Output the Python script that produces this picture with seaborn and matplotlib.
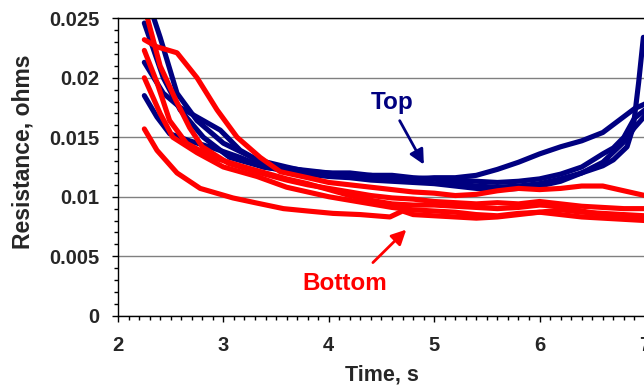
import matplotlib
matplotlib.use("Agg")
import matplotlib.pyplot as plt
import seaborn as sns
from matplotlib.ticker import MultipleLocator

# blue traces ("Top")
top1_t = [2.34, 2.40, 2.465, 2.56, 2.75, 3.00, 3.32, 3.60, 3.80, 4.00, 4.20, 4.40, 4.60, 4.80,
          5.00, 5.20, 5.40, 5.60, 5.80, 6.00, 6.20, 6.40, 6.60, 6.70, 6.83, 6.89, 6.94, 6.985]
top1_r = [0.0250, 0.0234, 0.0215, 0.0187, 0.0164, 0.0145, 0.0131, 0.0125, 0.0121, 0.0120, 0.0117,
          0.0118, 0.0115, 0.0114, 0.0115, 0.0111, 0.0109, 0.0108, 0.0109, 0.0111, 0.0115, 0.0120,
          0.0126, 0.0131, 0.0142, 0.0159, 0.0196, 0.0234]
top2_t = [2.25, 2.43, 2.59, 2.81, 3.06, 3.38, 3.60, 3.80, 4.00, 4.20, 4.40, 4.60, 4.80, 5.00,
          5.20, 5.40, 5.60, 5.80, 6.00, 6.20, 6.40, 6.60, 6.75, 6.90, 7.00]
top2_r = [0.0246, 0.0200, 0.0173, 0.0150, 0.0133, 0.0125, 0.0122, 0.0121, 0.0119, 0.0119, 0.0117,
          0.0117, 0.0115, 0.0116, 0.0116, 0.0118, 0.0123, 0.0129, 0.0136, 0.0142, 0.0147, 0.0154,
          0.0164, 0.0174, 0.0178]
top3_t = [2.25, 2.43, 2.59, 2.81, 2.97, 3.16, 3.38, 3.60, 3.80, 4.00, 4.20, 4.40, 4.60, 4.80,
          5.00, 5.20, 5.40, 5.60, 5.80, 6.00, 6.20, 6.40, 6.60, 6.70, 6.80, 6.90, 7.00]
top3_r = [0.0213, 0.0187, 0.0175, 0.0164, 0.0156, 0.0139, 0.0128, 0.0124, 0.0122, 0.0120, 0.0120,
          0.0118, 0.0118, 0.0116, 0.0115, 0.0114, 0.0113, 0.0112, 0.0113, 0.0115, 0.0119, 0.0125,
          0.0136, 0.0141, 0.0150, 0.0166, 0.0173]
top4_t = [2.25, 2.37, 2.49, 2.68, 2.90, 3.16, 3.38, 3.60, 3.80, 4.00, 4.20, 4.40, 4.60, 4.80,
          5.00, 5.20, 5.40, 5.60, 5.80, 6.00, 6.20, 6.40, 6.60, 6.80, 6.90, 7.00]
top4_r = [0.0185, 0.0167, 0.0153, 0.0147, 0.0141, 0.0133, 0.0125, 0.0122, 0.0119, 0.0117, 0.0116,
          0.0114, 0.0113, 0.0112, 0.0111, 0.0109, 0.0107, 0.0106, 0.0107, 0.0109, 0.0113, 0.0120,
          0.0129, 0.0146, 0.0158, 0.0168]

# red traces ("Bottom")
bot1_t = [2.28, 2.40, 2.55, 2.68, 2.80, 3.05, 3.35, 3.60, 3.80, 4.00, 4.20, 4.40, 4.60, 4.80,
          5.00, 5.20, 5.40, 5.60, 5.80, 6.00, 6.20, 6.40, 6.60, 6.80, 7.00]
bot1_r = [0.0250, 0.0210, 0.0181, 0.0158, 0.0142, 0.0128, 0.0120, 0.0114, 0.0110, 0.0107, 0.0104,
          0.0101, 0.0099, 0.0098, 0.0096, 0.0095, 0.0094, 0.0095, 0.0094, 0.0096, 0.0094, 0.0092,
          0.0091, 0.0090, 0.0090]
bot2_t = [2.25, 2.37, 2.56, 2.75, 2.94, 3.13, 3.35, 3.54, 3.80, 4.00, 4.20, 4.40, 4.60, 4.80,
          5.00, 5.20, 5.40, 5.60, 5.80, 6.00, 6.20, 6.40, 6.60, 6.80, 7.00]
bot2_r = [0.0232, 0.0226, 0.0221, 0.0200, 0.0173, 0.0150, 0.0133, 0.0121, 0.0116, 0.0112, 0.0110,
          0.0108, 0.0106, 0.0104, 0.0103, 0.0101, 0.0102, 0.0105, 0.0107, 0.0106, 0.0107, 0.0109,
          0.0109, 0.0105, 0.0101]
bot3_t = [2.25, 2.37, 2.49, 2.65, 2.90, 3.20, 3.60, 3.80, 4.00, 4.20, 4.40, 4.60, 4.80, 5.00,
          5.20, 5.40, 5.60, 5.80, 6.00, 6.20, 6.40, 6.60, 6.80, 7.00]
bot3_r = [0.0223, 0.0196, 0.0164, 0.0145, 0.0133, 0.0125, 0.0115, 0.0111, 0.0106, 0.0101, 0.0097,
          0.0094, 0.0093, 0.0093, 0.0092, 0.0091, 0.0090, 0.0091, 0.0093, 0.0092, 0.0088, 0.0085,
          0.0084, 0.0083]
bot4_t = [2.25, 2.40, 2.52, 2.75, 3.00, 3.32, 3.60, 3.80, 4.00, 4.20, 4.40, 4.60, 4.70, 4.80,
          5.00, 5.20, 5.40, 5.60, 5.80, 6.00, 6.20, 6.40, 6.60, 6.80, 7.00]
bot4_r = [0.0200, 0.0170, 0.0150, 0.0137, 0.0125, 0.0117, 0.0108, 0.0104, 0.0100, 0.0097, 0.0094,
          0.0091, 0.0090, 0.0089, 0.0088, 0.0087, 0.0085, 0.0084, 0.0086, 0.0087, 0.0085, 0.0083,
          0.0082, 0.0081, 0.0080]
bot5_t = [2.25, 2.37, 2.56, 2.78, 3.09, 3.30, 3.57, 3.80, 4.04, 4.30, 4.58, 4.70, 4.80, 5.00,
          5.20, 5.40, 5.60, 5.80, 6.00, 6.20, 6.40, 6.60, 6.80, 7.00]
bot5_r = [0.0157, 0.0139, 0.0120, 0.0107, 0.0099, 0.0095, 0.0090, 0.0088, 0.0086, 0.0085, 0.0083,
          0.0088, 0.0085, 0.0084, 0.0083, 0.0082, 0.0083, 0.0085, 0.0087, 0.0089, 0.0087, 0.0086,
          0.0085, 0.0084]

top_curves = [(top1_t, top1_r), (top2_t, top2_r), (top3_t, top3_r), (top4_t, top4_r)]
bot_curves = [(bot1_t, bot1_r), (bot2_t, bot2_r), (bot3_t, bot3_r), (bot4_t, bot4_r), (bot5_t, bot5_r)]

y_ticks = [0, 0.005, 0.01, 0.015, 0.02, 0.025]
y_labels = ["0", "0.005", "0.01", "0.015", "0.02", "0.025"]
x_ticks = [2, 3, 4, 5, 6, 7]
x_labels = ["2", "3", "4", "5", "6", "7"]

NAVY = "#000080"
RED = "#FF0000"

sns.set_theme(style="white")
plt.rcParams['font.family'] = ['Liberation Sans', 'DejaVu Sans']

fig = plt.figure(figsize=(6.44, 3.85), dpi=100)
ax = fig.add_axes([0.1832, 0.18, 0.8183, 0.7725])

for t, r in top_curves:
    sns.lineplot(x=t, y=r, ax=ax, color=NAVY, lw=3.7, estimator=None, sort=False)
for t, r in bot_curves:
    sns.lineplot(x=t, y=r, ax=ax, color=RED, lw=3.7, estimator=None, sort=False)

ax.set_xlim(2, 7)
ax.set_ylim(0, 0.025)
ax.set_xticks(x_ticks)
ax.set_xticklabels(x_labels)
ax.set_yticks(y_ticks)
ax.set_yticklabels(y_labels)
ax.xaxis.set_minor_locator(MultipleLocator(0.1))
ax.yaxis.set_minor_locator(MultipleLocator(0.001))
ax.grid(axis="y", which="major", color="#808080", lw=1)
ax.set_axisbelow(True)

ax.tick_params(which="major", direction="out", length=4.5, width=1, color="black",
               labelsize=14.5, bottom=True, left=True)
ax.tick_params(axis="x", which="major", pad=10)
ax.tick_params(axis="y", which="major", pad=9)
ax.tick_params(which="minor", direction="out", length=3, width=1, color="black",
               bottom=True, left=True)
for lab in ax.get_xticklabels() + ax.get_yticklabels():
    lab.set_fontweight("bold")

for side in ["left", "bottom", "top"]:
    ax.spines[side].set_color("black")
    ax.spines[side].set_linewidth(1)
ax.spines["right"].set_visible(False)

ax.set_xlabel("Time, s", fontsize=15.5, fontweight="bold")
ax.set_ylabel("Resistance, ohms", fontsize=16.5, fontweight="bold")
ax.xaxis.set_label_coords(0.5, -0.163)
ax.yaxis.set_label_coords(-0.158, 0.55)

ax.annotate("", xy=(4.915, 0.0125), xytext=(4.66, 0.0166),
            arrowprops=dict(arrowstyle="-|>", color=NAVY, lw=2, mutation_scale=22))
ax.text(4.60, 0.0179, "Top", color=NAVY, fontsize=17.5, fontweight="bold",
        ha="center", va="center")
ax.annotate("", xy=(4.754, 0.0074), xytext=(4.40, 0.0043),
            arrowprops=dict(arrowstyle="-|>", color=RED, lw=2, mutation_scale=22))
ax.text(4.15, 0.0027, "Bottom", color=RED, fontsize=17.5, fontweight="bold",
        ha="center", va="center")

fig.savefig("out.png", dpi=100)
